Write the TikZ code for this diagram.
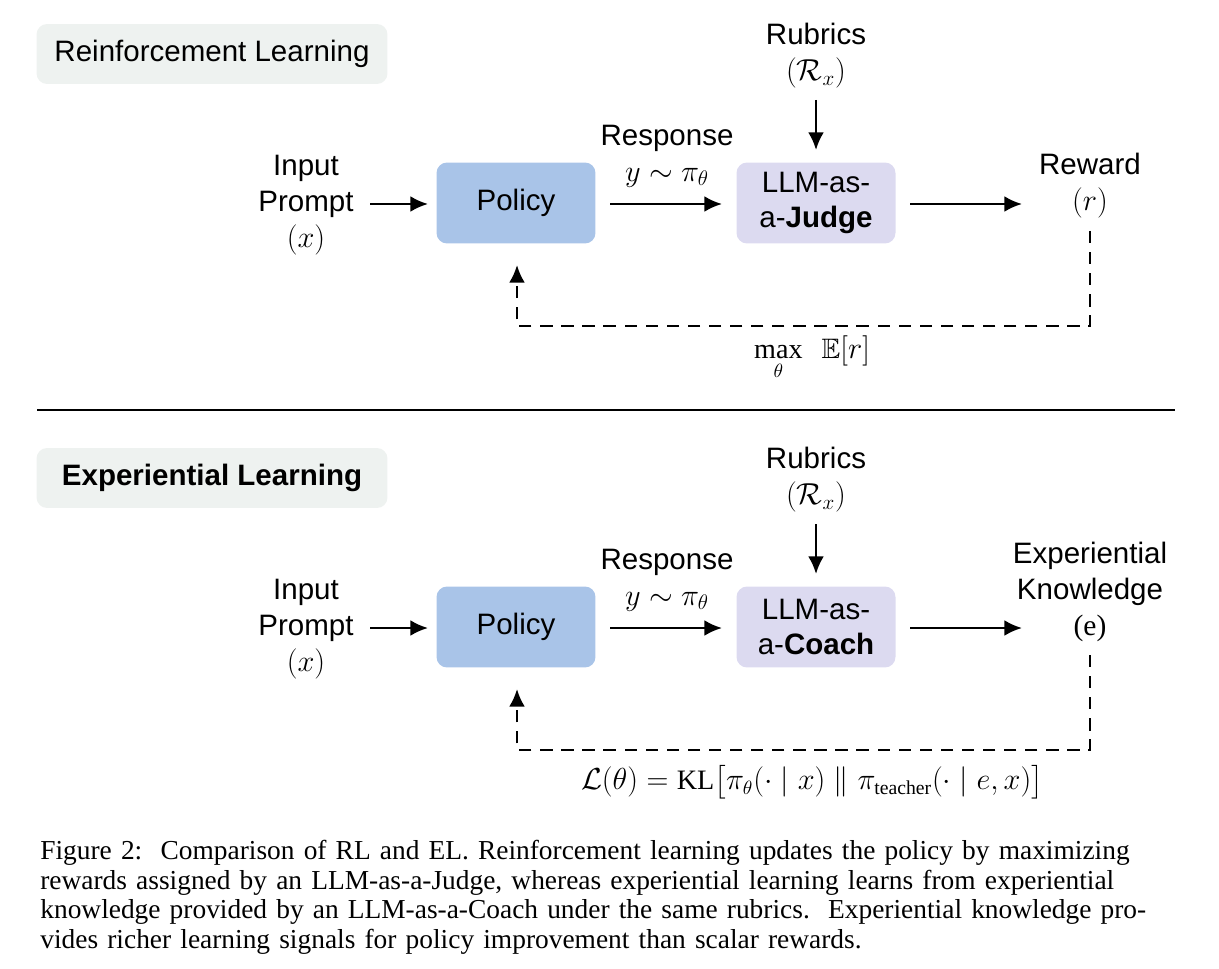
\documentclass[tikz,border=0pt]{standalone}
\usepackage{fontspec}
\usepackage{amsmath,amssymb}
\setmainfont{Liberation Serif}
\setsansfont{Liberation Sans}
\usetikzlibrary{arrows.meta}
\definecolor{hdr}{HTML}{EEF2F0}
\definecolor{pol}{HTML}{A9C4E8}
\definecolor{jud}{HTML}{DCDAF0}
\begin{document}
\begin{tikzpicture}[x=0.02cm,y=-0.02cm,
  txt/.style={font=\sffamily\fontsize{16.8}{20.4}\selectfont,align=center,inner sep=0pt},
  box/.style={txt,rounded corners=6pt,minimum width=3.18cm,minimum height=1.62cm},
  hbox/.style={txt,rounded corners=6pt,fill=hdr,minimum width=7.02cm,minimum height=1.2cm},
  arr/.style={line width=1.4pt,-{Latex[length=10pt,width=9pt]}},
  darr/.style={arr,dash pattern=on 7pt off 5pt}]
\useasboundingbox (0,0) rectangle (1219,969);
\foreach \o/\hd/\judge/\out/\outy/\lab in {0/{Reinforcement Learning}/{LLM-as-\\a-\textbf{Judge}}/{Reward\\$(r)$}/186/{$\displaystyle\max_{\theta}\ \ \mathbb{E}[r]$},
  424/{\textbf{Experiential Learning}}/{LLM-as-\\a-\textbf{Coach}}/{Experiential\\Knowledge\\{\rmfamily(e)}}/168/{$\mathcal{L}(\theta)=\mathrm{KL}\bigl[\pi_\theta(\cdot\mid x)\parallel \pi_{\text{teacher}}(\cdot\mid e,x)\bigr]$}}{
\begin{scope}[yshift=-\o*0.02cm]
\node[hbox] (h\o) at (212,54) {\hd};
\node[txt] (in\o) at (306,205) {Input\\Prompt\\$(x)$};
\node[box,fill=pol] (p\o) at (516,203) {Policy};
\node[box,fill=jud] (j\o) at (816,203) {\judge};
\node[txt] (rb\o) at (816,56) {Rubrics\\$(\mathcal{R}_x)$};
\node[txt] (rs\o) at (667,156) {Response\\$y\sim\pi_\theta$};
\node[txt] (o\o) at (1090,\outy) {\out};
\coordinate (a\o) at (370,204); \coordinate (b\o) at (428,204);
\draw[arr] (a\o) -- (b\o);
\coordinate (c\o) at (610,204); \coordinate (d\o) at (722,204);
\draw[arr] (c\o) -- (d\o);
\coordinate (e\o) at (910,204); \coordinate (f\o) at (1022,204);
\draw[arr] (e\o) -- (f\o);
\coordinate (g\o) at (816,100); \coordinate (k\o) at (816,150);
\draw[arr] (g\o) -- (k\o);
\coordinate (s\o) at (1090,231); \coordinate (t\o) at (517,265);
\draw[darr] (s\o) |- (517,326) -- (t\o);
\node[txt,font=\fontsize{16}{19}\selectfont] (l\o) at (812,358) {\lab};
\end{scope}}
\coordinate (L1) at (37,410); \coordinate (L2) at (1175,410);
\draw[line width=1pt] (L1) -- (L2);
\node[anchor=north west,inner sep=0pt,text width=22.7cm,font=\fontsize{15.6}{16.8}\selectfont] (cap) at (40,840) {Figure 2:\ \ Comparison of RL and EL. Reinforcement learning updates the policy by maximizing\linebreak rewards assigned by an LLM-as-a-Judge, whereas experiential learning learns from experiential\linebreak knowledge provided by an LLM-as-a-Coach under the same rubrics.\ \ Experiential knowledge pro-\linebreak vides richer learning signals for policy improvement than scalar rewards.};
\end{tikzpicture}
\end{document}
